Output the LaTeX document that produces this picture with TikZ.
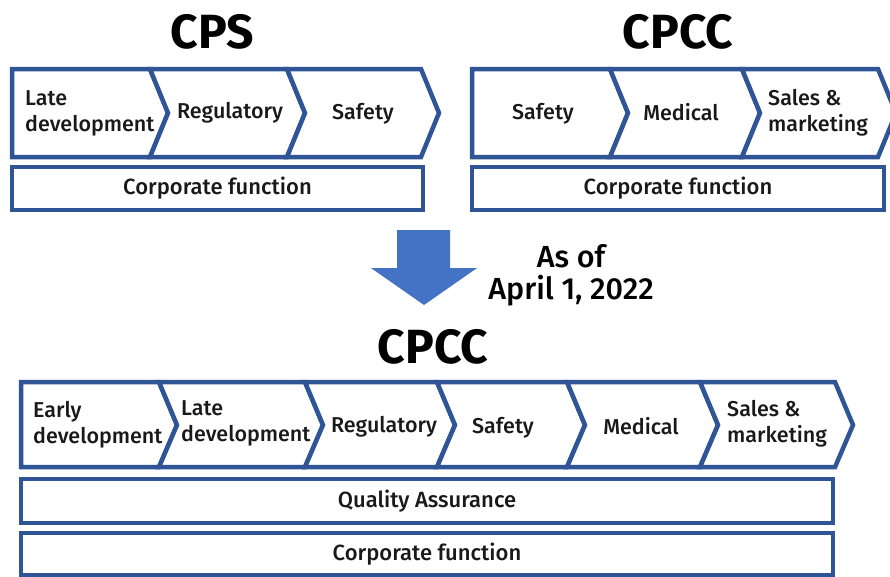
\documentclass[tikz,border=0pt]{standalone}
\usepackage{fontspec}
\setmainfont{Fira Sans}
\newfontfamily\labelfont{Fira Sans Medium}
\usepackage{tikz}
\usetikzlibrary{calc,positioning}

\definecolor{edgeblue}{HTML}{2F5597}
\definecolor{arrowblue}{HTML}{4472C4}

\tikzset{
  chevline/.style={draw=edgeblue, line width=4.5pt, fill=white, line join=miter},
  lbl/.style={font=\labelfont\fontsize{21.5}{26}\selectfont, inner sep=0pt, align=left, text=black!90},
  bar/.style={chevline, rectangle, inner sep=0pt, font=\labelfont\fontsize{22}{24}\selectfont, text=black!90},
  title/.style={font=\bfseries\fontsize{48}{50}\selectfont, inner sep=0pt},
  note/.style={font=\labelfont\fontsize{30.5}{32}\selectfont, inner sep=0pt, align=center}
}

\begin{document}
\begin{tikzpicture}[x=1pt, y=-1pt]
  \useasboundingbox (0,0) rectangle (890,576);
  \newcommand{\dep}{18}
  % titles
  \node[title] (tCPS) at (212,32) {CPS};
  \node[title] (tCPCCa) at (678,32) {CPCC};
  \node[title] (tCPCCb) at (433,347) {CPCC};
  % top left row
  \foreach \l/\r/\n in {12/150/0,150/287/\dep,287/421/\dep}{
    \draw[chevline] (\l,69) -- (\r,69) -- (\r+\dep,113) -- (\r,157)
      -- (\l,157) -- (\l+\n,113) -- cycle;
  }
  % top right row
  \foreach \l/\r/\n in {472/610/0,610/742/\dep,742/878/\dep}{
    \draw[chevline] (\l,69) -- (\r,69) -- (\r+\dep,113) -- (\r,157)
      -- (\l,157) -- (\l+\n,113) -- cycle;
  }
  % bottom row
  \foreach \l/\r/\n in {21/159/0,159/305/\dep,305/437/\dep,437/567/\dep,567/700/\dep,700/835/\dep}{
    \draw[chevline] (\l,382) -- (\r,382) -- (\r+\dep,425) -- (\r,467)
      -- (\l,467) -- (\l+\n,425) -- cycle;
  }
  % labels, top left
  \node[lbl, anchor=west] (aLate) at (25,113) {Late\\development};
  \node[lbl] (aReg) at (230,113) {Regulatory};
  \node[lbl] (aSaf) at (363,114) {Safety};
  % labels, top right
  \node[lbl] (bSaf) at (543,114) {Safety};
  \node[lbl] (bMed) at (681,112) {Medical};
  \node[lbl, anchor=west] (bSal) at (768,113) {Sales \&\\marketing};
  % labels, bottom
  \node[lbl, anchor=west] (cEarly) at (33,425) {Early\\development};
  \node[lbl, anchor=west] (cLate) at (181,423) {Late\\development};
  \node[lbl] (cReg) at (384,427) {Regulatory};
  \node[lbl] (cSaf) at (503,428) {Safety};
  \node[lbl] (cMed) at (641,426) {Medical};
  \node[lbl, anchor=west] (cSal) at (727,424) {Sales \&\\marketing};
  % bars
  \node[bar, minimum width=411pt, minimum height=43pt] (aCorp) at (217.5,188.5) {Corporate function};
  \node[bar, minimum width=412pt, minimum height=43pt] (bCorp) at (678,188.5) {Corporate function};
  \node[bar, minimum width=812pt, minimum height=44pt] (cQA) at (427,501) {Quality Assurance};
  \node[bar, minimum width=812pt, minimum height=42pt] (cCorp) at (427,554) {Corporate function};
  % transition arrow
  \fill[arrowblue] (397,230) -- (450,230) -- (450,268) -- (477,268) -- (424,305)
    -- (371,268) -- (397,268) -- cycle;
  \node[note] (asof) at (571,275) {As of\\April 1, 2022};
\end{tikzpicture}
\end{document}
